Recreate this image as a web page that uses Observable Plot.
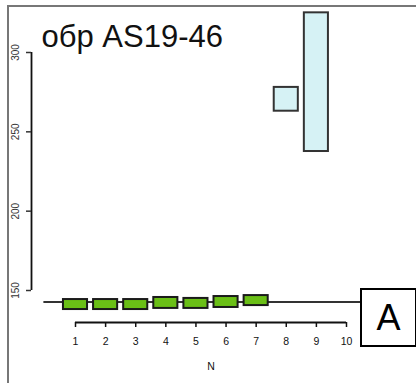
<!DOCTYPE html>
<html>
<head>
<meta charset="utf-8">
<script src="https://cdn.jsdelivr.net/npm/d3@7"></script>
<script src="https://cdn.jsdelivr.net/npm/@observablehq/plot@0.6"></script>
<style>
  html, body { margin: 0; padding: 0; background: #fff; }
  #wrap { position: relative; width: 416px; height: 383px; overflow: hidden; background: #fff; }
  #wrap svg { position: absolute; left: 0; top: 0; }
  #border { position: absolute; left: 7px; top: 5px; right: -10px; bottom: -10px;
            border-top: 2px solid #777; border-left: 2px solid #777; }
  #panel { position: absolute; left: 360px; top: 288px; width: 53px; height: 55px;
           border: 2px solid #000; background: #fff;
           font-family: "Liberation Sans", Arial, sans-serif; font-size: 36px;
           display: flex; align-items: center; justify-content: center; }
</style>
</head>
<body>
<div id="wrap">
  <div id="border"></div>
</div>
<script>
// ---- data ----
const title = "обр AS19-46";
const panelLabel = "A";
const xLabel = "N";
const xTicks = [1, 2, 3, 4, 5, 6, 7, 8, 9, 10];
const yTicks = [150, 200, 250, 300];

// green steps (N, low, high)
const greenN = [1, 2, 3, 4, 5, 6, 7];
const greenLow = [138.0, 138.0, 138.0, 138.7, 138.7, 139.3, 140.5];
const greenHigh = [144.3, 144.3, 144.3, 145.6, 145.0, 146.2, 146.8];

// light-blue steps (N, low, high)
const blueN = [8, 9];
const blueLow = [263.0, 237.6];
const blueHigh = [278.0, 325.0];

// horizontal reference level and its extent in N
const refLevel = [142.8];
const refStart = -0.05;
const refEnd = 10.5;

const boxHalf = 0.4;

const greenData = greenN.map((n, i) => ({n, lo: greenLow[i], hi: greenHigh[i]}));
const blueData = blueN.map((n, i) => ({n, lo: blueLow[i], hi: blueHigh[i]}));

const chart = Plot.plot({
  width: 416,
  height: 383,
  marginLeft: 75,
  marginRight: 70,
  marginTop: 52,
  marginBottom: 93,
  x: {domain: [xTicks[0], xTicks[xTicks.length - 1]]},
  y: {domain: [yTicks[0], yTicks[yTicks.length - 1]]},
  style: {fontFamily: "'Liberation Sans', Arial, sans-serif", background: "transparent", color: "#111"},
  marks: [
    Plot.ruleY(refLevel, {x1: refStart, x2: refEnd, stroke: "#333", strokeWidth: 2}),
    Plot.rect(greenData, {x1: d => d.n - boxHalf, x2: d => d.n + boxHalf, y1: "lo", y2: "hi",
      fill: "#6abf16", stroke: "#1a1a1a", strokeWidth: 2}),
    Plot.rect(blueData, {x1: d => d.n - boxHalf, x2: d => d.n + boxHalf, y1: "lo", y2: "hi",
      fill: "#d6f2f5", stroke: "#333", strokeWidth: 2}),
    // y axis
    Plot.ruleX([xTicks[0]], {y1: yTicks[0], y2: yTicks[yTicks.length - 1], dx: -44, stroke: "#111", strokeWidth: 1.8}),
    Plot.axisY({ticks: yTicks, tickSize: 5, tickPadding: 8, tickRotate: -90, dx: -44,
      fontSize: 10, color: "#333", label: null, strokeWidth: 1.5}),
    // x axis
    Plot.ruleY([yTicks[0]], {x1: xTicks[0], x2: xTicks[xTicks.length - 1], dy: 32, stroke: "#111", strokeWidth: 1.8}),
    Plot.axisX({ticks: xTicks, tickSize: 5, tickPadding: 10, dy: 32, fontSize: 10.5, label: null, color: "#111", strokeWidth: 1.5}),
    Plot.text([xLabel], {frameAnchor: "bottom", dy: 76.5, lineAnchor: "middle", fontSize: 10.5, fill: "#111"}),
    // title
    Plot.text([title], {frameAnchor: "top-left", dx: -34, dy: -5.5, lineAnchor: "bottom",
      textAnchor: "start", fontSize: 31, fill: "#111"})
  ]
});
document.getElementById("wrap").appendChild(chart);
const panel = document.createElement("div");
panel.id = "panel";
panel.textContent = panelLabel;
document.getElementById("wrap").appendChild(panel);
</script>
</body>
</html>
